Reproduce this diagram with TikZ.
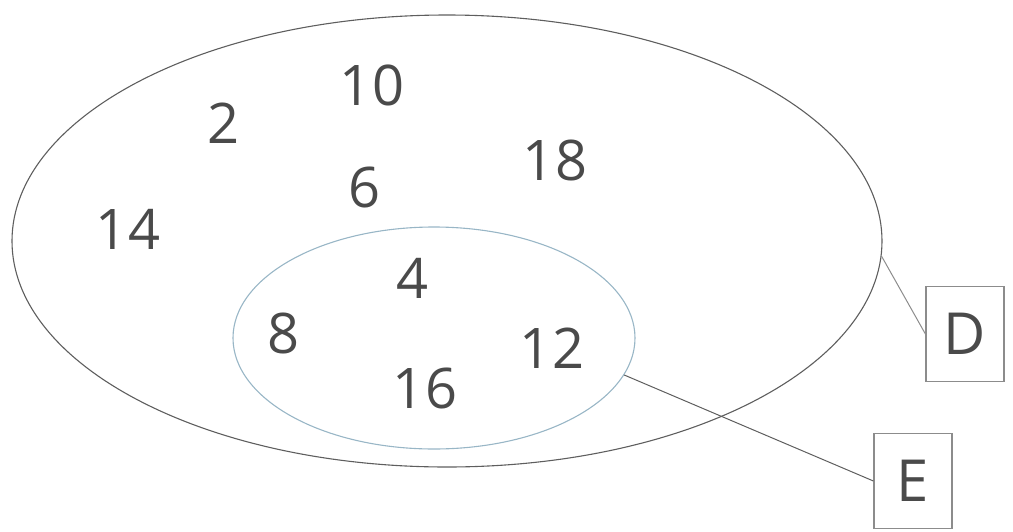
\documentclass[tikz,border=0pt]{standalone}
\usepackage{fontspec}
\setmainfont{Open Sans}
\usepackage{tikz}
\usetikzlibrary{shapes.geometric}
\usepackage{xcolor}
\definecolor{inkgray}{HTML}{4A4A4A}
\definecolor{setgray}{HTML}{5E5E5E}
\definecolor{setblue}{HTML}{98B6C6}
\definecolor{tagline}{HTML}{8C8C8C}

\begin{document}
\begin{tikzpicture}[
    x=1pt, y=-1pt,
    setline/.style={draw, ellipse, inner sep=0pt, line width=1.1pt},
    num/.style={font=\fontsize{56}{66}\selectfont, text=inkgray, inner sep=0pt},
    tag/.style={draw=tagline, line width=1.2pt, minimum width=78pt, minimum height=95pt, inner sep=0pt, font=\fontsize{58}{68}\selectfont, text=inkgray},
    link/.style={line width=1pt}
]
\useasboundingbox (0,0) rectangle (1013,531);

\node[setline, draw=setgray, minimum width=870pt, minimum height=452pt] (bigset) at (447,241) {};
\node[setline, draw=setblue, minimum width=402pt, minimum height=222pt] (smallset) at (434,338) {};

\node[num] (ten) at (372,85) {10};
\node[num] (two) at (224,123) {2};
\node[num] (six) at (365,187) {6};
\node[num] (eighteen) at (555,160) {18};
\node[num] (fourteen) at (128,229) {14};
\node[num] (four) at (413,278) {4};
\node[num] (eight) at (284,333) {8};
\node[num] (twelve) at (552,348) {12};
\node[num] (sixteen) at (425,388) {16};

\node[tag] (D) at (965,334) {D};
\node[tag] (E) at (913,481) {E};

\draw[link, tagline] (bigset.-2) -- (D.west);
\draw[link, setgray] (smallset.-11) -- (E.west);

\end{tikzpicture}
\end{document}
